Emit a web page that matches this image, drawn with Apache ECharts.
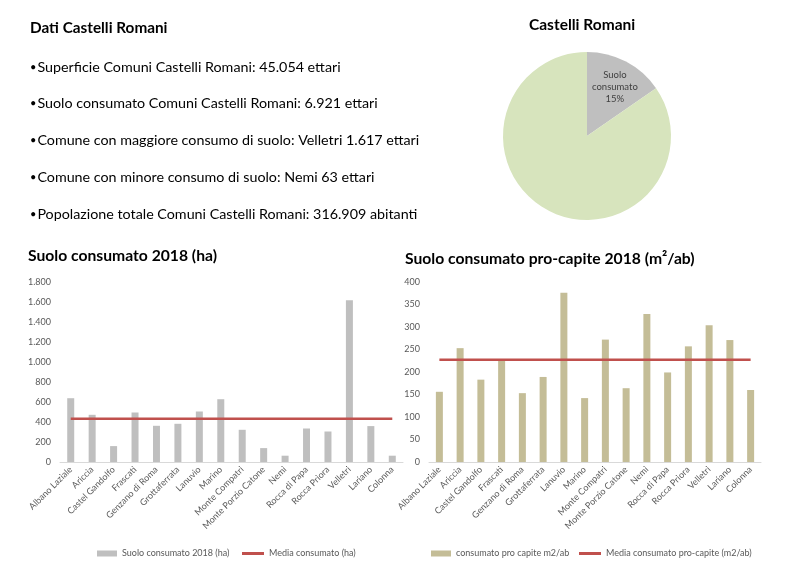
<!DOCTYPE html>
<html><head><meta charset="utf-8">
<script src="https://cdn.jsdelivr.net/npm/echarts@6/dist/echarts.min.js"></script>
<style>html,body{margin:0;padding:0;background:#fff}#c{width:801px;height:568px}</style>
</head><body><div id="c"></div>
<script>
const comuni = ['Albano Laziale','Ariccia','Castel Gandolfo','Frascati','Genzano di Roma','Grottaferrata','Lanuvio','Marino','Monte Compatri','Monte Porzio Catone','Nemi','Rocca di Papa','Rocca Priora','Velletri','Lariano','Colonna'];
const suoloHa = [638,472,159,495,362,382,505,628,322,139,63,335,305,1617,359,63];
const mediaHa = [433,433,433,433,433,433,433,433,433,433,433,433,433,433,433,433];
const proCapite = [156,253,183,225,153,189,376,142,272,164,329,199,257,304,271,160];
const mediaProCapite = [227,227,227,227,227,227,227,227,227,227,227,227,227,227,227,227];
const pieNames = ['Suolo consumato','Suolo non consumato'];
const pieValues = [6921,38133];
const infoLines = [
  'Superficie Comuni Castelli Romani: 45.054 ettari',
  'Suolo consumato Comuni Castelli Romani: 6.921 ettari',
  'Comune con maggiore consumo di suolo: Velletri 1.617 ettari',
  'Comune con minore consumo di suolo: Nemi 63 ettari',
  'Popolazione totale Comuni Castelli Romani: 316.909 abitanti'
];
const infoY = [69,105,142,179,216];

const FONT = 'Lato, "Open Sans", sans-serif';
const GREY_TXT = '#595959';
const RED = '#c0504d';
const fmtDot = v => String(v).replace(/\B(?=(\d{3})+(?!\d))/g, '.');

const chart = echarts.init(document.getElementById('c'), null, {renderer:'canvas'});

const graphics = [
  {type:'text', left:30, top:21, style:{text:'Dati Castelli Romani', font:'bold 15.3px '+FONT, fill:'#000'}},
  {type:'text', left:28, top:248, style:{text:'Suolo consumato 2018 (ha)', font:'bold 15.7px '+FONT, fill:'#000'}},
  {type:'text', left:405, top:251, style:{text:'Suolo consumato pro-capite 2018 (m²/ab)', font:'bold 15.7px '+FONT, fill:'#000'}},
  {type:'text', left:529, top:17, style:{text:'Castelli Romani', font:'bold 15.5px '+FONT, fill:'#000'}}
];
infoLines.forEach((t,i)=>graphics.push({type:'text', left:30, top:infoY[i]-9, style:{
  text:'{b|•}{t|'+t+'}',
  rich:{b:{fontSize:11, fontFamily:FONT, fill:'#000', padding:[0,1,0,0], verticalAlign:'middle'}, t:{fontSize:14.3, fontFamily:FONT, fill:'#000'}}
}}));

const xAxisCommon = {
  type:'category', data:comuni,
  axisLine:{lineStyle:{color:'#d9d9d9'}},
  axisTick:{show:false},
  axisLabel:{rotate:45, fontSize:9, color:GREY_TXT, fontFamily:FONT, interval:0, margin:6}
};
const legendText = {fontSize:9, color:GREY_TXT, fontFamily:FONT};

chart.setOption({
  animation:false,
  graphic:graphics,
  grid:[
    {left:60, right:398, top:282, bottom:106, containLabel:false},
    {left:429, right:40, top:282, bottom:106, containLabel:false}
  ],
  xAxis:[
    Object.assign({gridIndex:0}, xAxisCommon),
    Object.assign({gridIndex:1}, xAxisCommon)
  ],
  yAxis:[
    {gridIndex:0, type:'value', min:0, max:1800, interval:200, splitLine:{show:false}, axisLine:{show:false}, axisTick:{show:false},
     axisLabel:{fontSize:9, color:GREY_TXT, fontFamily:FONT, margin:9, formatter:fmtDot}},
    {gridIndex:1, type:'value', min:0, max:400, interval:50, splitLine:{show:false}, axisLine:{show:false}, axisTick:{show:false},
     axisLabel:{fontSize:9, color:GREY_TXT, fontFamily:FONT, margin:9}}
  ],
  legend:[
    {left:92, top:544, itemWidth:20, itemHeight:6, data:[{name:'Suolo consumato 2018 (ha)', icon:'rect'}], textStyle:legendText},
    {left:237, top:544, itemWidth:22, itemHeight:3, data:[{name:'Media consumato (ha)', icon:'rect'}], textStyle:legendText},
    {left:426, top:544, itemWidth:20, itemHeight:6, data:[{name:'consumato pro capite m2/ab', icon:'rect'}], textStyle:legendText},
    {left:574, top:544, itemWidth:22, itemHeight:3, data:[{name:'Media consumato pro-capite (m2/ab)', icon:'rect'}], textStyle:legendText}
  ],
  series:[
    {name:'Suolo consumato 2018 (ha)', type:'bar', xAxisIndex:0, yAxisIndex:0, data:suoloHa, barWidth:7, itemStyle:{color:'#bfbfbf'}},
    {name:'Media consumato (ha)', type:'line', xAxisIndex:0, yAxisIndex:0, data:mediaHa, symbol:'none', lineStyle:{color:RED, width:2.5}, itemStyle:{color:RED}},
    {name:'consumato pro capite m2/ab', type:'bar', xAxisIndex:1, yAxisIndex:1, data:proCapite, barWidth:7, itemStyle:{color:'#c4bd97'}},
    {name:'Media consumato pro-capite (m2/ab)', type:'line', xAxisIndex:1, yAxisIndex:1, data:mediaProCapite, symbol:'none', lineStyle:{color:RED, width:2.5}, itemStyle:{color:RED}},
    {type:'pie', center:[587,136], radius:84, startAngle:90, clockwise:true, silent:true,
     data:[
       {name:pieNames[0], value:pieValues[0], itemStyle:{color:'#bfbfbf'},
        label:{show:true, position:'inside', formatter:'Suolo\nconsumato\n{d}%', fontSize:9.5, lineHeight:12, color:'#404040', fontFamily:FONT, offset:[7,-9]}},
       {name:pieNames[1], value:pieValues[1], itemStyle:{color:'#d7e4bd'}, label:{show:false}}
     ],
     label:{show:false}, labelLine:{show:false}, percentPrecision:0}
  ]
});
</script></body></html>
